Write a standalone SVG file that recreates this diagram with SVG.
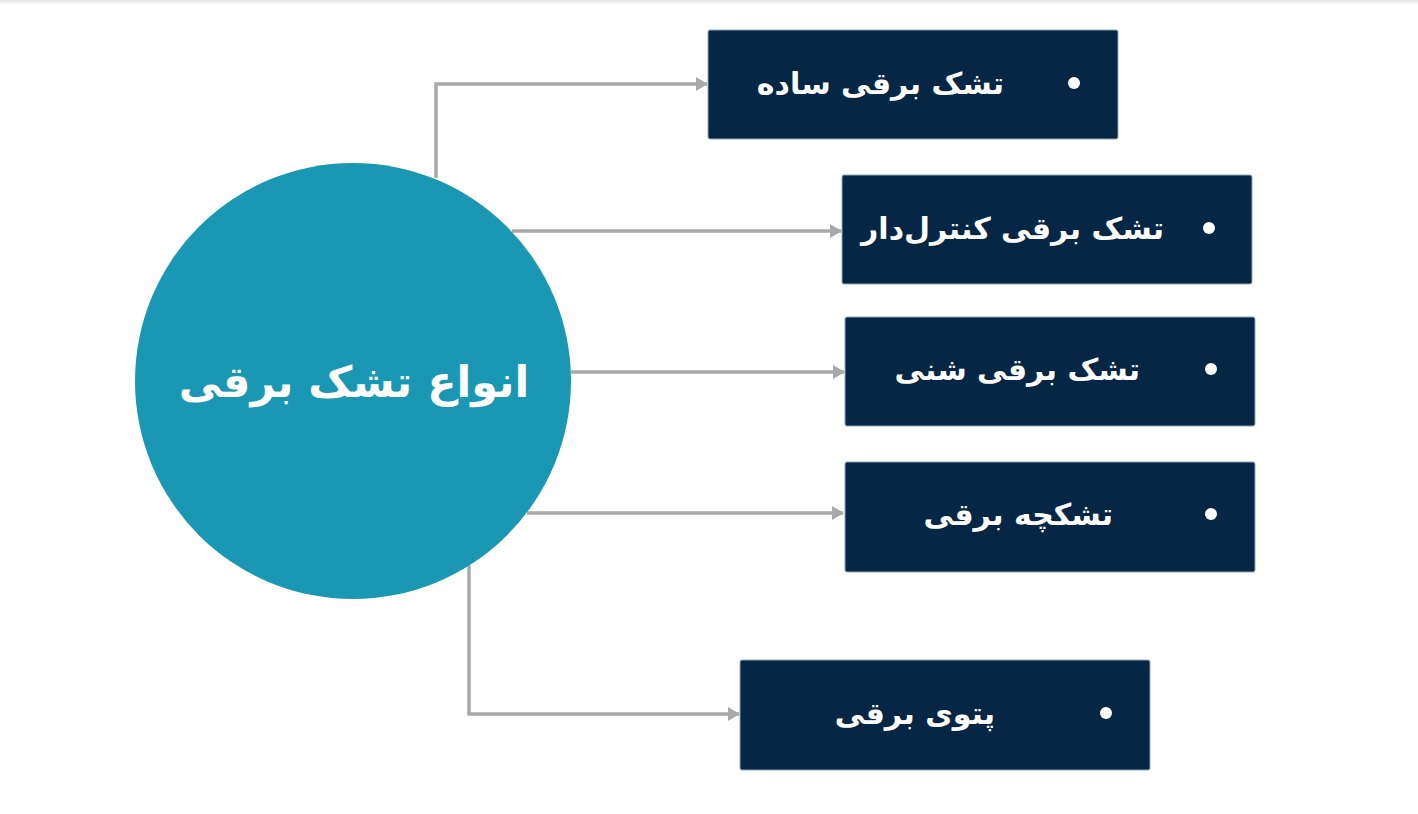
<svg xmlns="http://www.w3.org/2000/svg" width="1418" height="814" viewBox="0 0 1418 814">
<defs>
<marker id="arr" markerWidth="12" markerHeight="14" refX="11" refY="7" orient="auto" markerUnits="userSpaceOnUse">
<path d="M0,0 L12,7 L0,14 Z" fill="#a9a9a9"/>
</marker>
<linearGradient id="top" x1="0" y1="0" x2="0" y2="1"><stop offset="0" stop-color="#e4e4e6"/><stop offset="1" stop-color="#ffffff"/></linearGradient>
</defs>
<style>
.box{fill:#052645;stroke:#8fa3b5;stroke-width:1}
.lbl{font-family:"DejaVu Sans","Noto Sans",sans-serif;font-weight:bold;font-size:30px;fill:#ffffff;direction:rtl}
.dot{fill:#ffffff}
.con{fill:none;stroke:#a9a9a9;stroke-width:3.5;marker-end:url(#arr)}
</style>
<rect width="1418" height="814" fill="#ffffff"/>
<rect width="1418" height="5" fill="url(#top)"/>
<g id="connectors">
<path class="con" d="M436,178 V84 H707"/>
<path class="con" d="M512,231 H841"/>
<path class="con" d="M571,372 H844"/>
<path class="con" d="M527,513 H843"/>
<path class="con" d="M469,565 V714 H739"/>
</g>
<g id="center">
<circle cx="353" cy="381" r="218" fill="#1a97b2"/>
<text x="354" y="397" text-anchor="middle" style="font-family:'DejaVu Sans','Noto Sans',sans-serif;font-weight:bold;font-size:43px;fill:#fff;direction:rtl">انواع تشک برقی</text>
</g>
<g id="n1">
<rect class="box" x="708" y="30" width="410" height="109" rx="2"/>
<circle class="dot" cx="1074" cy="83" r="6"/>
<text class="lbl" x="1004" y="94">تشک برقی ساده</text>
</g>
<g id="n2">
<rect class="box" x="842" y="175" width="410" height="109" rx="2"/>
<circle class="dot" cx="1209" cy="228" r="6"/>
<text class="lbl" x="1164" y="239">تشک برقی کنترل‌دار</text>
</g>
<g id="n3">
<rect class="box" x="845" y="317" width="410" height="109" rx="2"/>
<circle class="dot" cx="1211" cy="369" r="6"/>
<text class="lbl" x="1140" y="380">تشک برقی شنی</text>
</g>
<g id="n4">
<rect class="box" x="845" y="462" width="410" height="110" rx="2"/>
<circle class="dot" cx="1211" cy="514" r="6"/>
<text class="lbl" x="1113" y="525">تشکچه برقی</text>
</g>
<g id="n5">
<rect class="box" x="740" y="660" width="410" height="110" rx="2"/>
<circle class="dot" cx="1106" cy="713" r="6"/>
<text class="lbl" x="995" y="724">پتوی برقی</text>
</g>
</svg>
